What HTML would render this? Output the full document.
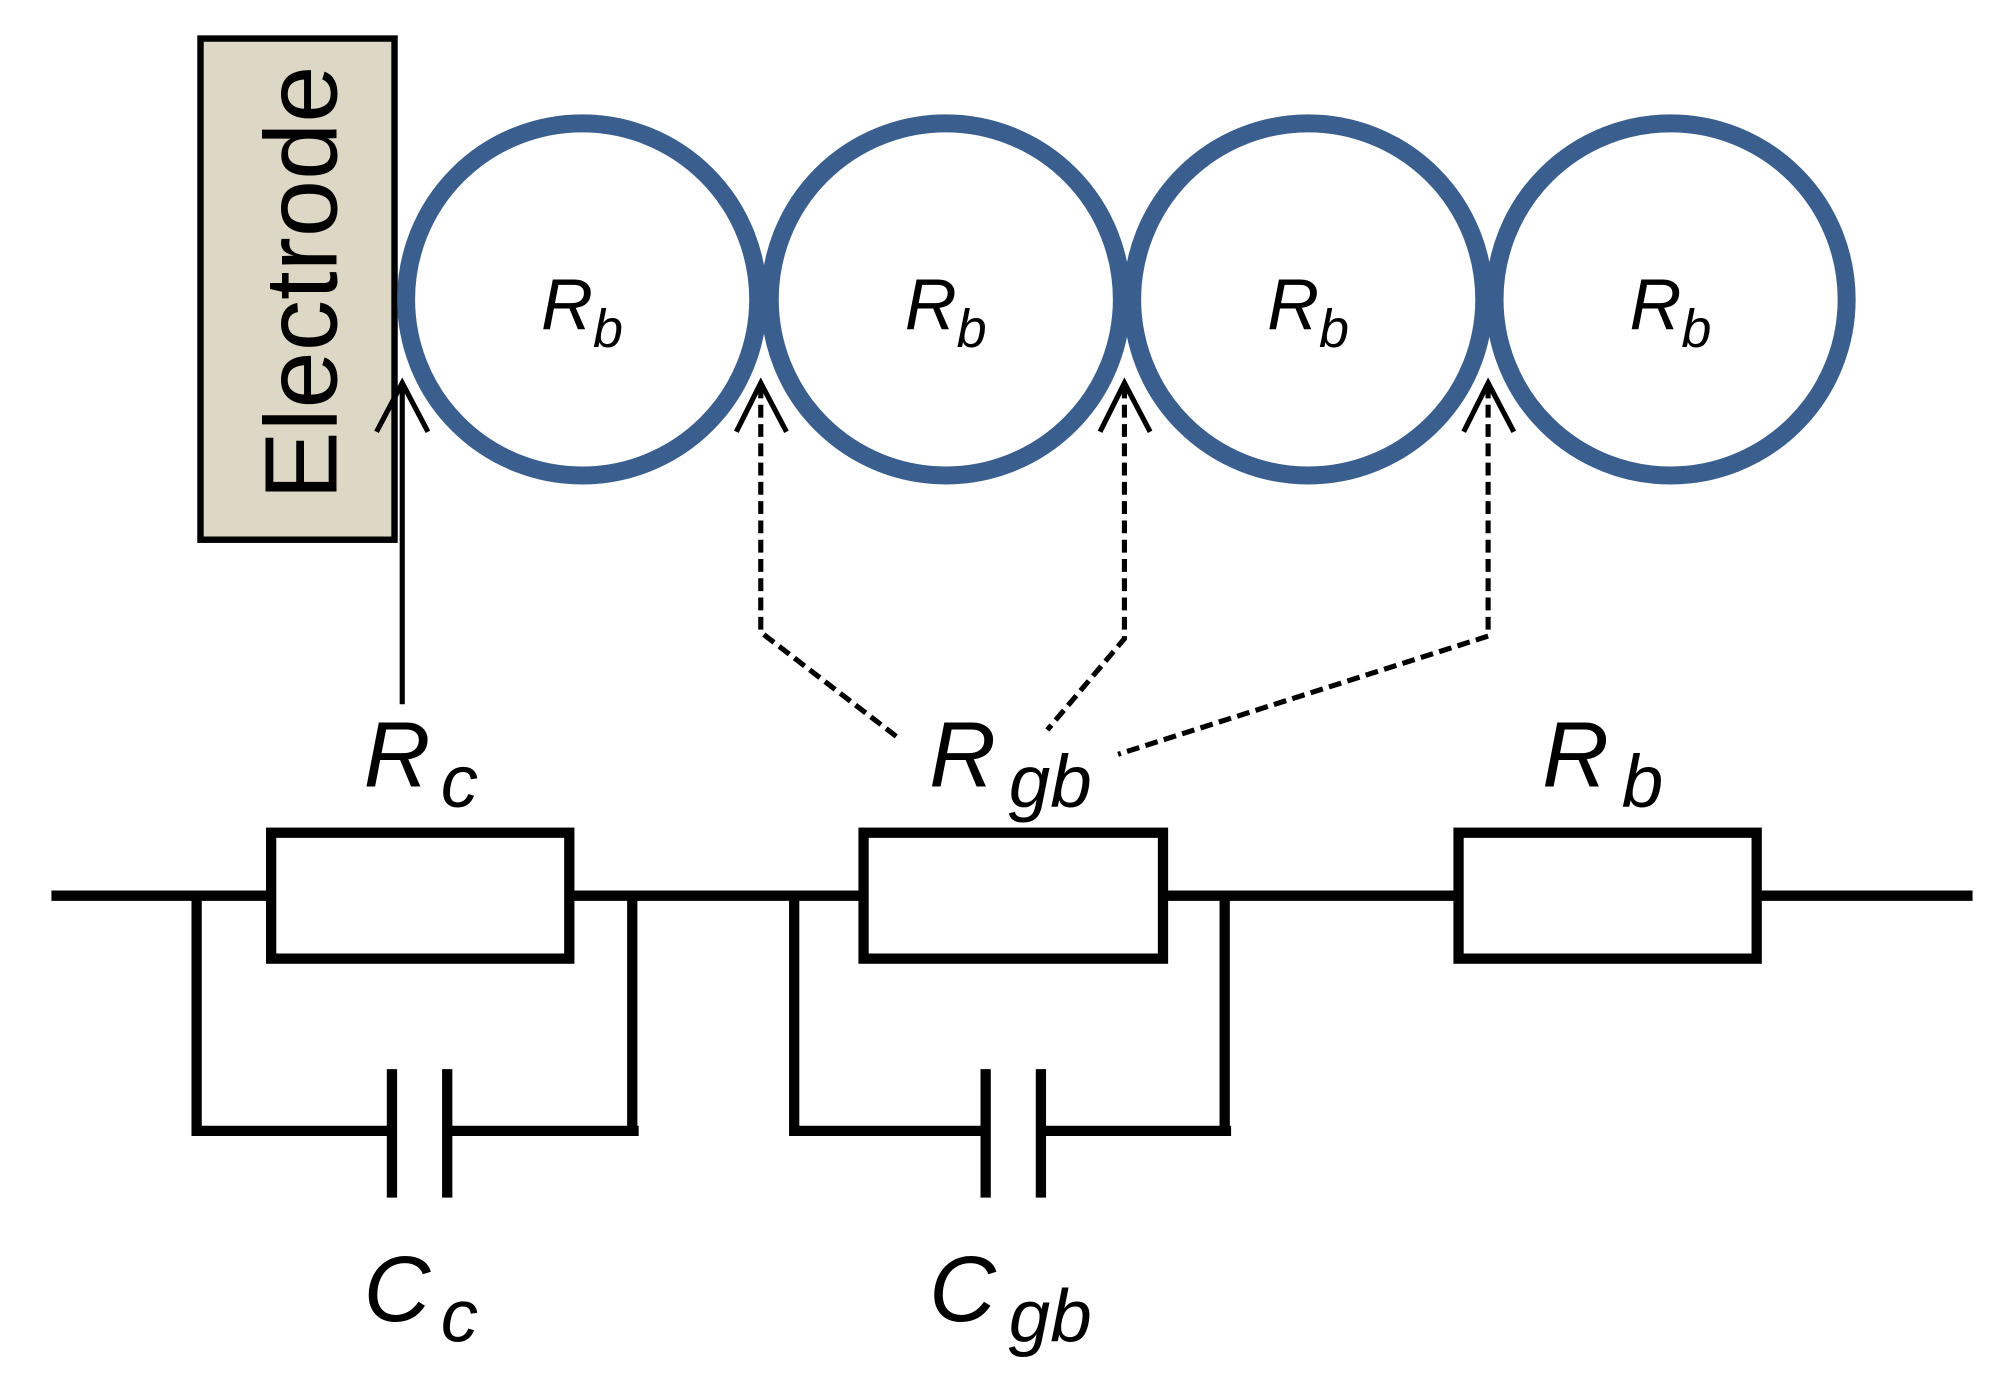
<!DOCTYPE html>
<html><head><meta charset="utf-8"><style>html,body{margin:0;padding:0;background:#fff}svg{display:block}</style></head>
<body>
<svg width="2015" height="1393" viewBox="0 0 1568 1084" xmlns="http://www.w3.org/2000/svg" font-family="Liberation Sans, sans-serif">
<rect x="156" y="30" width="151" height="390" fill="#dcd8c5" stroke="#000" stroke-width="5"/>
<text transform="translate(262,220) rotate(-90)" text-anchor="middle" font-size="80" fill="#000">Electrode</text>
<g fill="none" stroke="#3a5f8f" stroke-width="14">
<circle cx="453" cy="233" r="137"/><circle cx="736" cy="233" r="137"/><circle cx="1018" cy="233" r="137"/><circle cx="1300" cy="233" r="137"/>
</g>
<g font-style="italic" font-size="56" fill="#000">
<text x="421" y="256">R<tspan font-size="42" dy="14">b</tspan></text>
<text x="704" y="256">R<tspan font-size="42" dy="14">b</tspan></text>
<text x="986" y="256">R<tspan font-size="42" dy="14">b</tspan></text>
<text x="1268" y="256">R<tspan font-size="42" dy="14">b</tspan></text>
</g>
<g fill="none" stroke="#000" stroke-width="4">
<line x1="313" y1="548" x2="313" y2="298"/>
<polyline points="293,336 313,298 333,336"/>
<polyline points="573,336 592,298 612,336"/>
<polyline points="856,336 875,298 895,336"/>
<polyline points="1139,336 1158,298 1178,336"/>
</g>
<g fill="none" stroke="#000" stroke-width="4" stroke-dasharray="10,5">
<polyline points="592,300 592,492 700,575"/>
<polyline points="875,300 875,497 815,568"/>
<polyline points="1158,300 1158,495 870,587"/>
</g>
<g fill="none" stroke="#000" stroke-width="8">
<line x1="40" y1="697" x2="211" y2="697"/>
<line x1="443" y1="697" x2="672" y2="697"/>
<line x1="905" y1="697" x2="1135" y2="697"/>
<line x1="1367" y1="697" x2="1535" y2="697"/>
<rect x="211" y="648" width="232" height="98"/>
<rect x="672" y="648" width="233" height="98"/>
<rect x="1135" y="648" width="232" height="98"/>
<polyline points="153,697 153,880 303,880"/>
<line x1="305" y1="832" x2="305" y2="932"/>
<line x1="348" y1="832" x2="348" y2="932"/>
<polyline points="350,880 497,880"/>
<line x1="492" y1="697" x2="492" y2="880"/>
<polyline points="618,697 618,880 765,880"/>
<line x1="767" y1="832" x2="767" y2="932"/>
<line x1="810" y1="832" x2="810" y2="932"/>
<polyline points="812,880 958,880"/>
<line x1="953" y1="697" x2="953" y2="880"/>
</g>
<g font-style="italic" font-size="72" fill="#000">
<text x="283" y="612">R</text><text x="343" y="628" font-size="58">c</text>
<text x="723" y="612">R</text><text x="785" y="628" font-size="58">gb</text>
<text x="1200" y="612">R</text><text x="1262" y="628" font-size="58">b</text>
<text x="283" y="1028">C</text><text x="343" y="1044" font-size="58">c</text>
<text x="723" y="1028">C</text><text x="785" y="1044" font-size="58">gb</text>
</g>
</svg>
</body></html>
